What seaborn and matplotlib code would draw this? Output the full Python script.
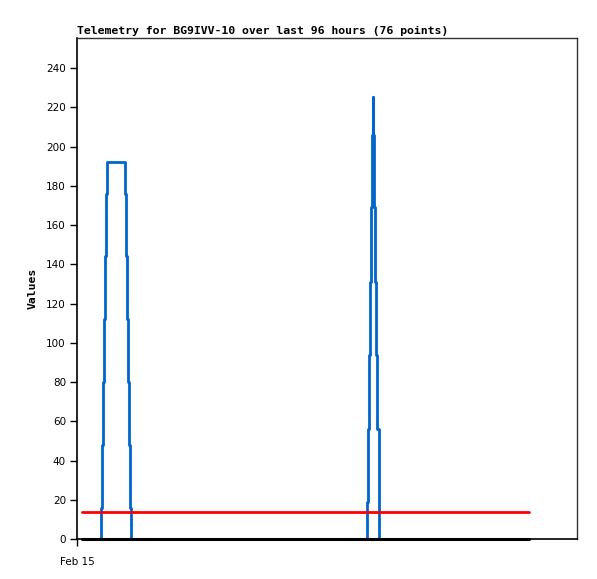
import matplotlib
matplotlib.use("Agg")
import matplotlib.pyplot as plt
import seaborn as sns
import pandas as pd

# time in hours since Feb 15 00:00
blue_t = [1.07, 5.15, 5.43, 5.65, 5.86, 6.08, 6.29, 6.40, 10.31, 10.48, 10.67, 10.89,
          11.10, 11.32, 11.53, 62.22, 62.44, 62.71, 62.99, 63.21, 63.40, 63.53, 63.60,
          63.72, 63.79, 63.94, 64.22, 64.50, 64.80, 64.86, 97.08]
blue_v = [0, 16, 48, 80, 112, 144, 176, 192, 176, 144, 112, 80,
          48, 16, 0, 19, 56, 94, 131, 169, 206, 225, 206,
          206, 169, 131, 94, 56, 19, 0, 0]
red_t = [1.07, 97.08]
red_v = [14, 14]
black_t = [1.07, 97.08]
black_v = [0, 0]

x_ticks = [0]
x_labels = ["Feb 15"]
y_ticks = list(range(0, 241, 20))

sns.set_style("white")
plt.rcParams['font.family'] = ['DejaVu Sans']

fig = plt.figure(figsize=(5.97, 5.79), dpi=100)
ax = fig.add_axes([77/597, 40/579, 500/597, 501/579])

dfb = pd.DataFrame({"t": blue_t, "v": blue_v})
dfr = pd.DataFrame({"t": red_t, "v": red_v})
dfk = pd.DataFrame({"t": black_t, "v": black_v})

sns.lineplot(data=dfb, x="t", y="v", ax=ax, color="#0066cc", linewidth=2,
             drawstyle="steps-post", estimator=None, sort=False, zorder=2)
sns.lineplot(data=dfr, x="t", y="v", ax=ax, color="#ff0000", linewidth=2,
             estimator=None, sort=False, zorder=3)
sns.lineplot(data=dfk, x="t", y="v", ax=ax, color="#000000", linewidth=2.2,
             estimator=None, sort=False, zorder=4, clip_on=False)

ax.set_xlim(0, 107.4)
ax.set_ylim(0, 255.3)
ax.set_yticks(y_ticks)
ax.set_yticklabels([str(v) for v in y_ticks], fontsize=7.5, color='black')
ax.set_xticks(x_ticks)
ax.set_xticklabels(x_labels, fontsize=7.5, color='black')
ax.tick_params(axis='both', which='major', direction='out', length=5, width=1,
               color='black', left=True, bottom=True, pad=3)
ax.tick_params(axis='x', pad=8)
ax.set_xlabel("")
ax.set_ylabel("Values", fontsize=8.2, fontweight='bold', family='DejaVu Sans Mono',
              labelpad=6, color='black')
ax.set_title("Telemetry for BG9IVV-10 over last 96 hours (76 points)", loc='left',
             fontsize=8.25, fontweight='bold', family='DejaVu Sans Mono', pad=3, color='black')
for s in ['left', 'bottom']:
    ax.spines[s].set_color('black')
    ax.spines[s].set_linewidth(1.2)
for s in ['top', 'right']:
    ax.spines[s].set_color('#333333')
    ax.spines[s].set_linewidth(1)
ax.grid(False)

fig.savefig("out.png", dpi=100)
